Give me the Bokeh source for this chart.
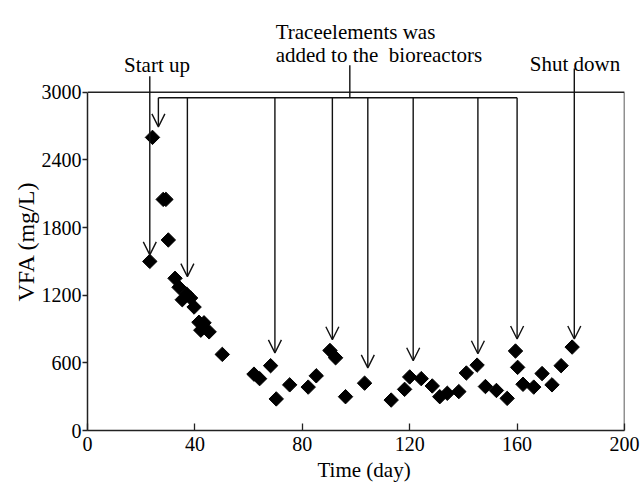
import math
from bokeh.plotting import figure
from bokeh.models import (Range1d, FixedTicker, Label, Arrow, OpenHead,
                          ColumnDataSource, LinearAxis, Title)
from bokeh.embed import file_html
from bokeh.resources import INLINE

# ---- data ----
day = [23.2, 24.2, 28.2, 29.2, 30.1, 32.6, 34.1, 35.3, 36.9, 38.4, 39.7, 41.5,
       43.4, 42.2, 45.3, 50.2, 62.0, 64.1, 68.2, 70.3, 75.3, 82.2, 85.2, 90.3,
       92.4, 96.1, 103.2, 113.1, 118.1, 120.0, 124.3, 128.4, 131.2, 134.0,
       138.3, 141.1, 145.1, 148.2, 152.3, 156.3, 159.4, 160.2, 162.2, 166.2,
       169.3, 173.0, 176.4, 180.5]
vfa = [1500, 2600, 2050, 2050, 1690, 1350, 1270, 1160, 1210, 1175, 1095, 960,
       955, 890, 875, 675, 500, 460, 575, 280, 405, 385, 485, 710,
       645, 300, 420, 270, 365, 475, 460, 395, 300, 330,
       345, 510, 580, 390, 355, 285, 705, 560, 410, 385,
       505, 405, 575, 740]

x_ticks = [0, 40, 80, 120, 160, 200]
y_ticks = [0, 600, 1200, 1800, 2400, 3000]

# annotation arrows: trace element additions (day, arrow tip VFA)
trace_days = [26.4, 37.2, 69.8, 91.2, 104.4, 121.3, 145.4, 160.0]
trace_tips = [2693, 1365, 688, 805, 555, 619, 681, 812]
startup_day, startup_tip = 23.2, 1558
shutdown_day, shutdown_tip = 181.3, 812

FONT = "Liberation Serif"
W, H = 641, 484
BL, BR, BB = 87, 17, 53
frame_h = H - BB
y_top = 3000 * frame_h / 339.0

p = figure(width=W, height=H, output_backend="svg", toolbar_location=None,
           x_range=Range1d(0, 200), y_range=Range1d(0, y_top),
           min_border_left=BL, min_border_right=BR, min_border_bottom=BB,
           min_border_top=0, x_axis_location=None, y_axis_location=None)
p.outline_line_color = None
p.xgrid.visible = False
p.ygrid.visible = False
p.background_fill_color = "white"
p.border_fill_color = "white"

xax = LinearAxis(ticker=FixedTicker(ticks=x_ticks), bounds=(0, 200))
yax = LinearAxis(ticker=FixedTicker(ticks=y_ticks), bounds=(0, 3000))
for ax in (xax, yax):
    ax.axis_line_color = "#222222"
    ax.axis_line_width = 1.5
    ax.major_tick_line_color = "#222222"
    ax.major_tick_line_width = 1.3
    ax.minor_tick_line_color = None
    ax.major_label_text_font = FONT
    ax.major_label_text_font_size = "20px"
    ax.major_label_text_color = "black"
xax.major_tick_in = 7
xax.major_tick_out = 0
xax.major_label_standoff = 6
yax.major_tick_in = 0
yax.major_tick_out = 5
yax.major_label_standoff = 1
p.add_layout(xax, "below")
p.add_layout(yax, "left")

# axis titles as side-panel titles (offset places them as in the reference)
p.add_layout(Title(text="Time (day)", align="left", offset=230, standoff=5,
                   text_font=FONT, text_font_size="21px", text_font_style="normal",
                   text_color="black", vertical_align="bottom"), "below")
p.add_layout(Title(text="VFA (mg/L)", align="left", offset=129, standoff=0,
                   text_font=FONT, text_font_size="24px", text_font_style="normal",
                   text_color="black", vertical_align="bottom"), "left")

# frame top and right
p.line(x=[0, 200, 200], y=[3000, 3000, 0], line_color="#222222", line_width=1.5)

# data
p.scatter(day, vfa, marker="square", size=10.2, angle=math.pi / 4,
          fill_color="black", line_color="black")

LC = "#111111"
LW = 1.4
# connector lines
y_br = 2951
p.line(x=[trace_days[0], trace_days[-1]], y=[y_br, y_br], line_color=LC, line_width=LW)
p.line(x=[97.7, 97.7], y=[3239, y_br], line_color=LC, line_width=LW)

src = ColumnDataSource(dict(
    x0=trace_days + [startup_day, shutdown_day],
    y0=[y_br] * len(trace_days) + [3142, 3210],
    x1=trace_days + [startup_day, shutdown_day],
    y1=trace_tips + [startup_tip, shutdown_tip]))
p.add_layout(Arrow(end=OpenHead(size=13, line_color=LC, line_width=LW),
                   x_start="x0", y_start="y0", x_end="x1", y_end="y1",
                   source=src, line_color=LC, line_width=LW))

def lab(txt, x, y, align="left", size="21px"):
    p.add_layout(Label(x=x, y=y, text=txt, text_font=FONT, text_font_size=size,
                       text_align=align, text_baseline="alphabetic",
                       text_color="black"))

lab("Start up", 25.9, 3239, align="center")
lab("Traceelements was", 70.1, 3534)
lab("added to the \u00a0bioreactors", 70.1, 3327)
lab("Shut down", 164.7, 3254)

open("out.html", "w").write(file_html(p, INLINE))
